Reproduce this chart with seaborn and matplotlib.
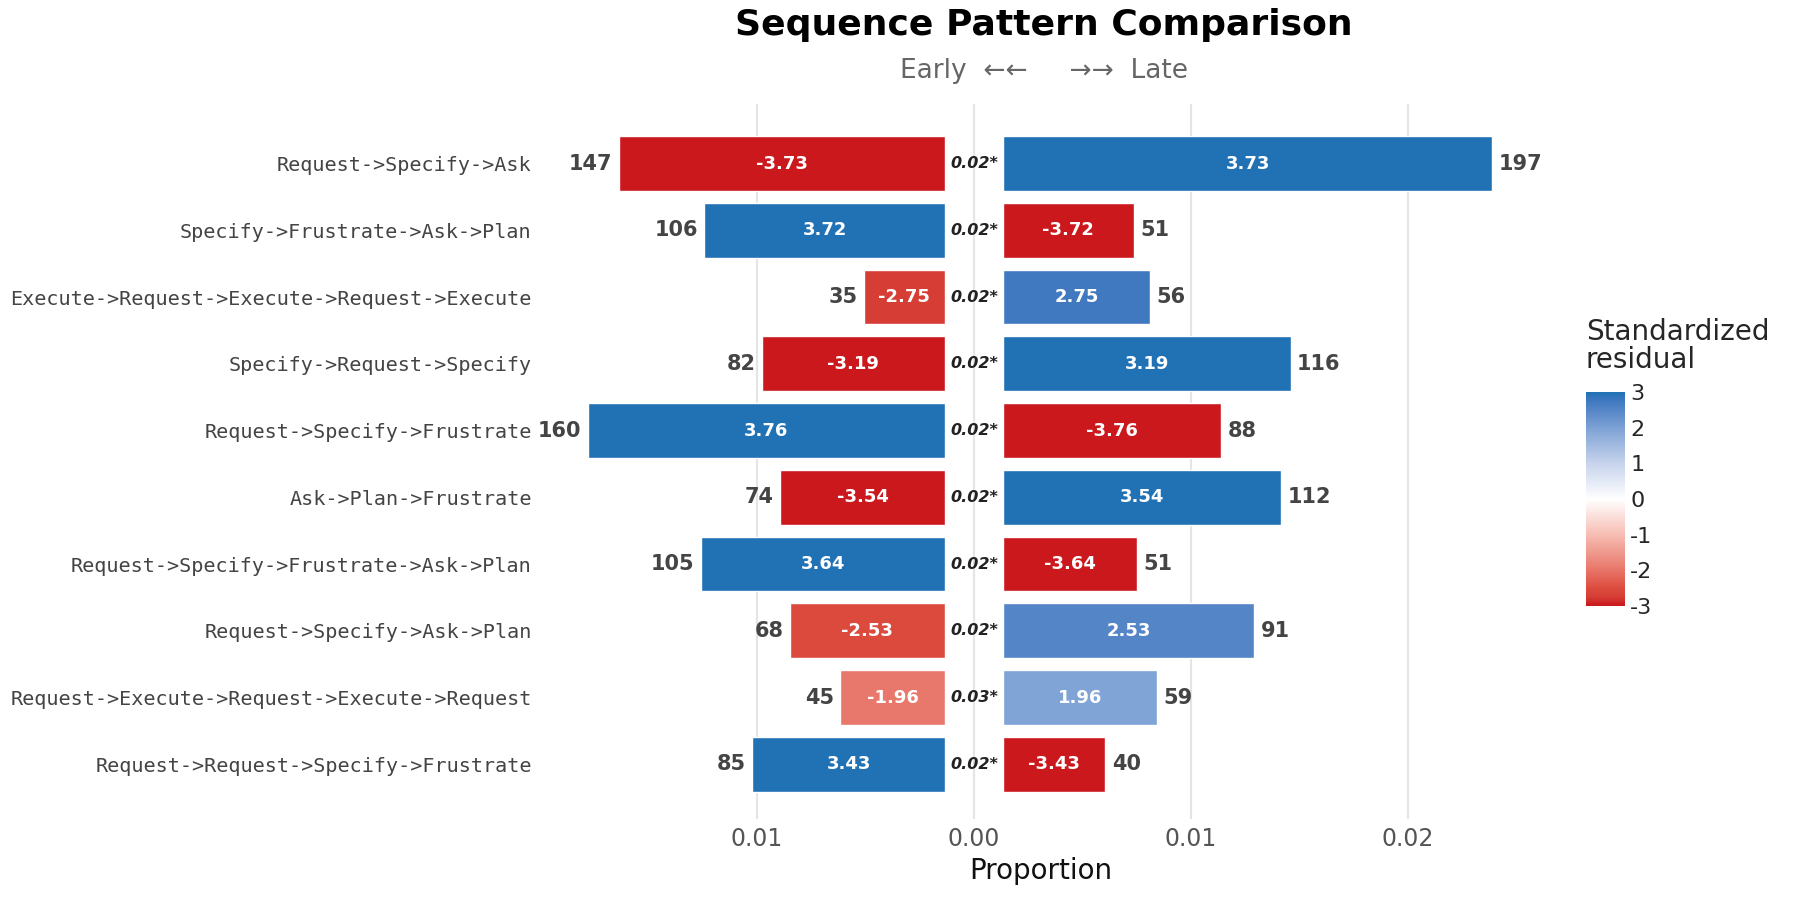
import matplotlib
matplotlib.use("Agg")
import matplotlib.pyplot as plt
import seaborn as sns
import numpy as np
from matplotlib.colors import LinearSegmentedColormap, Normalize

patterns = ["Request->Specify->Ask", "Specify->Frustrate->Ask->Plan",
            "Execute->Request->Execute->Request->Execute", "Specify->Request->Specify",
            "Request->Specify->Frustrate", "Ask->Plan->Frustrate",
            "Request->Specify->Frustrate->Ask->Plan", "Request->Specify->Ask->Plan",
            "Request->Execute->Request->Execute->Request", "Request->Request->Specify->Frustrate"]
early_count = [147, 106, 35, 82, 160, 74, 105, 68, 45, 85]
late_count = [197, 51, 56, 116, 88, 112, 51, 91, 59, 40]
early_prop = [0.01503, 0.01108, 0.00373, 0.00843, 0.01643, 0.00757, 0.01124, 0.00714, 0.00481, 0.00886]
late_prop = [0.02254, 0.00600, 0.00676, 0.01324, 0.01005, 0.01281, 0.00616, 0.01157, 0.00708, 0.00470]
early_resid = [-3.73, 3.72, -2.75, -3.19, 3.76, -3.54, 3.64, -2.53, -1.96, 3.43]
late_resid = [3.73, -3.72, 2.75, 3.19, -3.76, 3.54, -3.64, 2.53, 1.96, -3.43]
p_labels = ["0.02*"] * 8 + ["0.03*", "0.02*"]
x_ticks = [-0.01, 0.0, 0.01, 0.02]
x_tick_labels = ["0.01", "0.00", "0.01", "0.02"]

sns.set_theme(style="white")
plt.rcParams['font.family'] = ['DejaVu Sans']

stops = [(0.0, "#CB181D"), (0.04, "#D53E35"), (0.08, "#DC4B3E"), (0.17, "#E8776A"),
         (0.33, "#F6BCB2"), (0.5, "#FFFFFF"), (0.67, "#C6D3EC"), (0.83, "#7FA3D5"),
         (0.92, "#5586C7"), (0.96, "#4179C0"), (1.0, "#2171B5")]
cmap = LinearSegmentedColormap.from_list("div", stops)
norm = Normalize(-3, 3)
gap = 0.00135

fig = plt.figure(figsize=(18, 9), dpi=100)
ax = fig.add_axes([0.30, 0.09, 0.557, 0.795])
y = np.arange(len(patterns))
for i in range(len(patterns)):
    ax.barh(i, -early_prop[i], left=-gap, height=0.82, color=cmap(norm(np.clip(early_resid[i], -3, 3))), zorder=2)
    ax.barh(i, late_prop[i], left=gap, height=0.82, color=cmap(norm(np.clip(late_resid[i], -3, 3))), zorder=2)
    ax.text(-gap - early_prop[i] / 2, i, f"{early_resid[i]:.2f}", color="white", fontsize=13,
            fontweight="bold", ha="center", va="center", zorder=3)
    ax.text(gap + late_prop[i] / 2, i, f"{late_resid[i]:.2f}", color="white", fontsize=13,
            fontweight="bold", ha="center", va="center", zorder=3)
    ax.text(-gap - early_prop[i] - 0.0003, i, str(early_count[i]), color="#444444", fontsize=15,
            fontweight="bold", ha="right", va="center", clip_on=True)
    ax.text(gap + late_prop[i] + 0.0003, i, str(late_count[i]), color="#444444", fontsize=15,
            fontweight="bold", ha="left", va="center", clip_on=True)
    ax.text(0, i, p_labels[i], color="#222222", fontsize=11.5, fontweight="bold", style="italic",
            ha="center", va="center", zorder=3)

ax.set_xlim(-0.0200, 0.0262)
ax.set_ylim(len(patterns) - 0.18, -0.9)
ax.set_yticks(y)
ax.set_yticklabels(patterns, family="DejaVu Sans Mono", fontsize=14.5, color="#444444")
ax.set_xticks(x_ticks)
ax.set_xticklabels(x_tick_labels, fontsize=17, color="#555555")
ax.tick_params(axis="both", length=0, pad=6)
ax.xaxis.grid(True, color="#E5E5E5", linewidth=1.5, zorder=0)
ax.yaxis.grid(False)
for s in ax.spines.values():
    s.set_visible(False)
ax.set_xlabel("Proportion", fontsize=20, color="#111111")

fig.text(0.58, 0.972, "Sequence Pattern Comparison", fontsize=26, fontweight="bold", ha="center", va="center", color="black")
fig.text(0.58, 0.921, "Early  ←←     →→  Late", fontsize=19, color="#666666", ha="center", va="center")

cax = fig.add_axes([0.881, 0.327, 0.022, 0.237])
sm = plt.cm.ScalarMappable(cmap=cmap, norm=norm)
cb = fig.colorbar(sm, cax=cax, ticks=[-3, -2, -1, 0, 1, 2, 3])
cb.outline.set_visible(False)
cb.ax.tick_params(labelsize=16, length=0)
cb.ax.set_yticklabels(["-3", "-2", "-1", "0", "1", "2", "3"])
fig.text(0.881, 0.615, "Standardized\nresidual", fontsize=20, ha="left", va="center", linespacing=1.0)

fig.savefig("out.png", dpi=100, facecolor="white")
